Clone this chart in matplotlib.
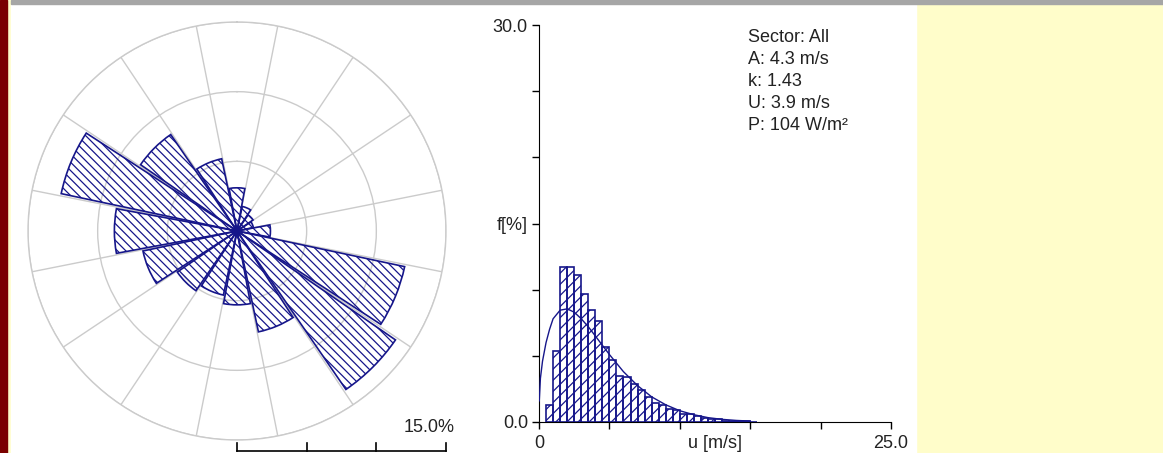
import numpy as np
import matplotlib
matplotlib.use('Agg')
import matplotlib.pyplot as plt
from matplotlib.patches import Rectangle
from matplotlib.lines import Line2D

# wind rose: frequency per sector [%]
sectors = ['N', 'NNE', 'NE', 'ENE', 'E', 'ESE', 'SE', 'SSE',
           'S', 'SSW', 'SW', 'WSW', 'W', 'WNW', 'NW', 'NNW']
sector_freq = [3.1, 1.8, 1.4, 1.2, 2.4, 12.3, 13.8, 7.4,
               5.3, 4.7, 5.2, 6.9, 8.8, 12.9, 8.4, 5.3]

# speed histogram, all sectors (bin lower edge in m/s, frequency in %)
speed_lo = [0.5, 1.0, 1.5, 2.0, 2.5, 3.0, 3.5, 4.0, 4.5, 5.0,
            5.5, 6.0, 6.5, 7.0, 7.5, 8.0, 8.5, 9.0, 9.5, 10.0,
            10.5, 11.0, 11.5, 12.0, 12.5, 13.0, 13.5, 14.0, 14.5, 15.0]
speed_freq = [1.26, 5.4, 11.7, 11.7, 11.1, 9.7, 8.5, 7.6, 5.7, 4.7,
              3.5, 3.4, 2.9, 2.4, 1.9, 1.4, 1.26, 1.0, 0.88, 0.63,
              0.58, 0.43, 0.30, 0.25, 0.20, 0.10, 0.08, 0.06, 0.05, 0.03]

# fitted curve
curve_u = [0.02, 0.1, 0.25, 0.5, 0.75, 1.0, 1.5, 2.0, 2.5, 3.0, 3.5, 4.0,
           4.5, 5.0, 6.0, 7.0, 8.0, 9.0, 10.0, 11.0, 12.0, 13.0, 14.0, 15.0]
curve_f = [1.6, 3.3, 4.6, 6.0, 7.0, 7.8, 8.45, 8.55, 8.3, 7.8, 7.2, 6.5,
           5.8, 5.1, 3.8, 2.75, 1.9, 1.3, 0.85, 0.55, 0.33, 0.2, 0.12, 0.07]

stats = ['Sector: All', 'A: 4.3 m/s', 'k: 1.43', 'U: 3.9 m/s', 'P: 104 W/m²']

W, H = 1163, 453
navy = '#16168a'
grid_grey = '#cbcbcb'
txt_col = '#222222'

plt.rcParams['font.family'] = ['Liberation Sans', 'DejaVu Sans']
plt.rcParams['hatch.linewidth'] = 0.9

fig = plt.figure(figsize=(W / 100, H / 100), dpi=100)
fig.patch.set_facecolor('#fffdca')

def px(x, y, w, h):
    # pixel box (top-left origin) -> figure fractions
    return (x / W, 1 - (y + h) / H, w / W, h / H)

# window chrome
fig.add_artist(Rectangle(px(0, 0, 7, H)[:2], 7 / W, 1, transform=fig.transFigure,
                         color='#7a0000', zorder=0))
b = px(11, 4, 905, H - 4)
fig.add_artist(Rectangle(b[:2], b[2], b[3], transform=fig.transFigure,
                         color='white', zorder=0))
b = px(11, 0, W - 11, 4)
fig.add_artist(Rectangle(b[:2], b[2], b[3], transform=fig.transFigure,
                         color='#a6a6a6', zorder=0))

# ---- wind rose ----
cx, cy, R = 237, 231, 209
ax = fig.add_axes(px(cx - R, cy - R, 2 * R, 2 * R), projection='polar')
ax.set_facecolor('none')
ax.set_theta_zero_location('N')
ax.set_theta_direction(-1)
ang = np.deg2rad(np.arange(len(sectors)) * 360.0 / len(sectors))
ax.bar(ang, sector_freq, width=np.deg2rad(21), bottom=0,
       facecolor='none', edgecolor=navy, hatch='\\\\\\\\', linewidth=1.2, zorder=3)
ax.set_ylim(0, 15)
ax.set_yticks([5, 10, 15])
ax.set_yticklabels([])
ax.set_xticks(np.deg2rad(11.25 + np.arange(16) * 22.5))
ax.set_xticklabels([])
ax.grid(True, color=grid_grey, linewidth=1)
ax.spines['polar'].set_color(grid_grey)
ax.spines['polar'].set_linewidth(1)

# scale bar
ybar = 1 - 451 / H
fig.add_artist(Line2D([cx / W, (cx + R) / W], [ybar, ybar], color='black', lw=1.2))
for r in [0, 5, 10, 15]:
    xx = (cx + R * r / 15) / W
    fig.add_artist(Line2D([xx, xx], [ybar, ybar + 8 / H], color='black', lw=1.2))
fig.text(455 / W, 1 - 428 / H, '15.0%', ha='right', va='center',
         fontsize=13, color=txt_col)

# ---- speed histogram ----
ax2 = fig.add_axes(px(539, 25, 352, 397))
ax2.set_facecolor('none')
ax2.bar(speed_lo, speed_freq, width=0.5, align='edge', facecolor='none',
        edgecolor=navy, hatch='///', linewidth=1.2, zorder=3)
ax2.plot(curve_u, curve_f, color=navy, lw=1.0, zorder=4)
ax2.set_xlim(0, 25)
ax2.set_ylim(0, 30)
ax2.spines['top'].set_visible(False)
ax2.spines['right'].set_visible(False)
ax2.set_xticks([0, 5, 10, 15, 20, 25])
ax2.set_xticklabels(['0', '', '', '', '', '25.0'])
ax2.set_xticks([12.5], ['u [m/s]'], minor=True)
ax2.set_yticks([0, 5, 10, 15, 20, 25, 30])
ax2.set_yticklabels(['0.0', '', '', 'f[%]', '', '', '30.0'])
ax2.tick_params(axis='both', which='major', length=5, width=1, labelsize=13,
                labelcolor=txt_col)
ax2.tick_params(axis='x', which='major', pad=4)
ax2.tick_params(axis='y', which='major', pad=3)
ax2.tick_params(axis='x', which='minor', length=0, pad=9, labelsize=13,
                labelcolor=txt_col)

for i, s in enumerate(stats):
    fig.text(748 / W, 1 - (37 + i * 22.2) / H, s, ha='left', va='center',
             fontsize=13, color=txt_col)

fig.savefig('out.png', dpi=100, facecolor=fig.get_facecolor())
